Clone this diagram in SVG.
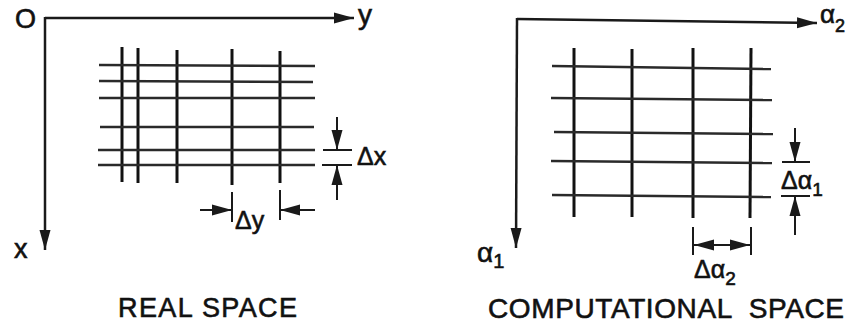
<svg xmlns="http://www.w3.org/2000/svg" width="853" height="326" viewBox="0 0 853 326">
<style>
.ax{stroke:#1a1a1a;stroke-width:2.5;fill:none}
.gv{stroke:#111;stroke-width:3;fill:none}
.gh{stroke:#2a2a2a;stroke-width:2.5;fill:none}
.dim{stroke:#1a1a1a;stroke-width:2;fill:none}
.lbl{font-family:"Liberation Sans",Arial,sans-serif;fill:#111;stroke:#111;stroke-width:0.6}
</style>
<defs>
<marker id="ah" markerUnits="userSpaceOnUse" markerWidth="21" markerHeight="12" refX="20" refY="6" orient="auto">
<path d="M0,0.5 L20,6 L0,11.5 Z" fill="#1a1a1a"/>
</marker>
</defs>
<rect width="853" height="326" fill="#fff"/>

<g id="real-space">
<g id="real-axes">
<line class="ax" x1="45" y1="18" x2="354" y2="18" marker-end="url(#ah)"/>
<line class="ax" x1="45" y1="17" x2="45" y2="250" marker-end="url(#ah)"/>
<text class="lbl" x="15" y="28" font-size="27">O</text>
<text class="lbl" x="358" y="24" font-size="28">y</text>
<text class="lbl" x="14" y="258" font-size="27">x</text>
</g>
<g id="real-grid">
<line class="gv" x1="122" y1="47" x2="122" y2="182"/>
<line class="gv" x1="138" y1="48" x2="138" y2="183"/>
<line class="gv" x1="177" y1="50" x2="177" y2="183"/>
<line class="gv" x1="232" y1="49" x2="232" y2="185"/>
<line class="gv" x1="280" y1="51" x2="280" y2="183"/>
<line class="gh" x1="99" y1="65" x2="315" y2="66"/>
<line class="gh" x1="99" y1="81" x2="313" y2="82"/>
<line class="gh" x1="99" y1="98" x2="315" y2="98"/>
<line class="gh" x1="100" y1="127" x2="314" y2="127"/>
<line class="gh" x1="98" y1="150" x2="315" y2="150"/>
<line class="gh" x1="98" y1="165" x2="315" y2="165"/>
</g>
<g id="real-dx">
<line class="dim" x1="323" y1="150" x2="352" y2="150"/>
<line class="dim" x1="322" y1="165" x2="352" y2="165"/>
<line class="dim" x1="337" y1="117" x2="337" y2="150" marker-end="url(#ah)"/>
<line class="dim" x1="337" y1="200" x2="337" y2="165" marker-end="url(#ah)"/>
<text class="lbl" x="357" y="165" font-size="25">Δx</text>
</g>
<g id="real-dy">
<line class="dim" x1="232" y1="192" x2="232" y2="222"/>
<line class="dim" x1="280" y1="190" x2="280" y2="220"/>
<line class="dim" x1="200" y1="210" x2="232" y2="210" marker-end="url(#ah)"/>
<line class="dim" x1="315" y1="210" x2="280" y2="210" marker-end="url(#ah)"/>
<text class="lbl" x="235" y="229" font-size="25">Δy</text>
</g>
<text class="lbl" x="118" y="317" font-size="27" textLength="179" lengthAdjust="spacing">REAL SPACE</text>
</g>

<g id="computational-space">
<g id="comp-axes">
<line class="ax" x1="517" y1="19" x2="817" y2="23" marker-end="url(#ah)"/>
<line class="ax" x1="517" y1="18" x2="516" y2="248" marker-end="url(#ah)"/>
<text class="lbl" x="820" y="23" font-size="26">α<tspan font-size="18" dy="9">2</tspan></text>
<text class="lbl" x="477" y="262" font-size="28">α<tspan font-size="20" dy="6">1</tspan></text>
</g>
<g id="comp-grid">
<line class="gv" x1="574" y1="48" x2="574" y2="217"/>
<line class="gv" x1="632" y1="49" x2="632" y2="217"/>
<line class="gv" x1="693" y1="48" x2="693" y2="218"/>
<line class="gv" x1="751" y1="48" x2="750" y2="218"/>
<line class="gh" x1="552" y1="66" x2="771" y2="69"/>
<line class="gh" x1="551" y1="98" x2="772" y2="100"/>
<line class="gh" x1="554" y1="132" x2="773" y2="134"/>
<line class="gh" x1="551" y1="161" x2="772" y2="163"/>
<line class="gh" x1="552" y1="195" x2="771" y2="197"/>
</g>
<g id="comp-da1">
<line class="dim" x1="782" y1="162" x2="810" y2="162"/>
<line class="dim" x1="781" y1="196" x2="810" y2="196"/>
<line class="dim" x1="795" y1="128" x2="795" y2="162" marker-end="url(#ah)"/>
<line class="dim" x1="795" y1="235" x2="795" y2="196" marker-end="url(#ah)"/>
<text class="lbl" x="781" y="189" font-size="25">Δα<tspan font-size="19" dy="7">1</tspan></text>
</g>
<g id="comp-da2">
<line class="dim" x1="693" y1="227" x2="693" y2="255"/>
<line class="dim" x1="751" y1="227" x2="751" y2="255"/>
<line class="dim" x1="722" y1="245" x2="694" y2="245" marker-end="url(#ah)"/>
<line class="dim" x1="722" y1="245" x2="750" y2="245" marker-end="url(#ah)"/>
<text class="lbl" x="694" y="278" font-size="25">Δα<tspan font-size="19" dy="7">2</tspan></text>
</g>
<text class="lbl" x="488" y="318" font-size="28" textLength="356" lengthAdjust="spacing" xml:space="preserve">COMPUTATIONAL  SPACE</text>
</g>
</svg>
